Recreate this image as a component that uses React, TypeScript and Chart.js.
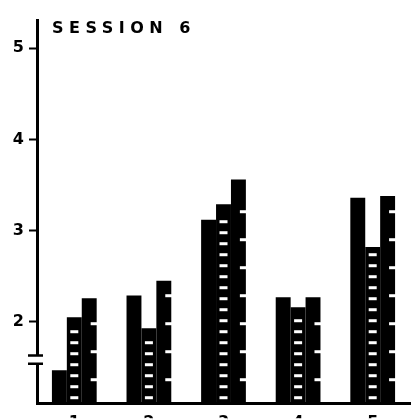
import React, { useEffect, useRef } from "react";
import { Chart, registerables } from "chart.js";

Chart.register(...registerables);

const categories = ["1", "2", "3", "4", "5"];
const leftValues = [1.47, 2.29, 3.12, 2.27, 3.36];
const middleValues = [2.05, 1.93, 3.29, 2.16, 2.82];
const rightValues = [2.26, 2.45, 3.56, 2.27, 3.38];
const yTicks = [2, 3, 4, 5];
const yMin = 1.11;
const yMax = 5.31;
const axisBreak = [1.54, 1.63];
const titleText = "SESSION 6";

const decorPlugin = {
  id: "decor",
  afterDatasetsDraw(chart: any) {
    const ctx = chart.ctx;
    ctx.save();
    ctx.fillStyle = "#fff";
    const m1 = chart.getDatasetMeta(1);
    m1.data.forEach((bar: any) => {
      const p = bar.getProps(["x", "y", "base", "width"], true);
      for (let yy = p.base - 9; yy > p.y + 6; yy -= 11) {
        ctx.fillRect(p.x - 4, yy, 8, 3);
      }
    });
    const m2 = chart.getDatasetMeta(2);
    m2.data.forEach((bar: any) => {
      const p = bar.getProps(["x", "y", "base", "width"], true);
      for (let yy = p.base - 14; yy > p.y + 10; yy -= 28) {
        ctx.fillRect(p.x + p.width / 2 - 6, yy, 7, 3);
      }
    });
    ctx.restore();
  },
  afterDraw(chart: any) {
    const ctx = chart.ctx;
    const ys = chart.scales.y;
    const left = chart.chartArea.left;
    const yA = ys.getPixelForValue(axisBreak[1]);
    const yB = ys.getPixelForValue(axisBreak[0]);
    ctx.save();
    ctx.fillStyle = "#fff";
    ctx.fillRect(left - 4, yA, 8, yB - yA);
    ctx.strokeStyle = "#000";
    ctx.lineWidth = 2.5;
    ctx.beginPath();
    ctx.moveTo(left - 9, yA);
    ctx.lineTo(left + 6, yA);
    ctx.moveTo(left - 9, yB);
    ctx.lineTo(left + 6, yB);
    ctx.stroke();
    ctx.fillStyle = "#000";
    ctx.font = 'bold 16px "DejaVu Sans"';
    (ctx as any).letterSpacing = "5.5px";
    ctx.textBaseline = "alphabetic";
    ctx.fillText(titleText, left + 15, chart.chartArea.top + 13);
    ctx.restore();
  },
};

export default function App() {
  const ref = useRef<HTMLCanvasElement>(null);
  useEffect(() => {
    if (!ref.current) return;
    const ds = (data: number[]) => ({
      data,
      backgroundColor: "#000",
      borderWidth: 0,
      barPercentage: 1,
      categoryPercentage: 0.6,
    });
    const chart = new Chart(ref.current, {
      type: "bar",
      data: {
        labels: categories,
        datasets: [ds(leftValues), ds(middleValues), ds(rightValues)],
      },
      options: {
        animation: false,
        responsive: true,
        maintainAspectRatio: false,
        layout: { padding: { top: 20, right: 6, left: 0, bottom: 0 } },
        plugins: { legend: { display: false }, tooltip: { enabled: false } },
        scales: {
          x: {
            grid: { display: false },
            border: { display: true, color: "#000", width: 3 },
            ticks: {
              color: "#000",
              padding: 2,
              font: { family: "DejaVu Sans", size: 16, weight: "bold" },
            },
            afterFit: (s: any) => {
              s.height = 17;
            },
          },
          y: {
            min: yMin,
            max: yMax,
            afterBuildTicks: (s: any) => {
              s.ticks = yTicks.map((v) => ({ value: v }));
            },
            grid: {
              drawOnChartArea: false,
              drawTicks: true,
              tickLength: 8,
              tickWidth: 2,
              color: "#000",
            },
            border: { display: true, color: "#000", width: 3 },
            ticks: {
              color: "#000",
              padding: 5,
              font: { family: "DejaVu Sans", size: 16, weight: "bold" },
            },
            afterFit: (s: any) => {
              s.width = 37;
            },
          },
        },
      },
      plugins: [decorPlugin],
    });
    return () => chart.destroy();
  }, []);
  return (
    <div style={{ position: "fixed", left: 0, top: 0, width: 416, height: 420, background: "#fff" }}>
      <canvas ref={ref} />
    </div>
  );
}
